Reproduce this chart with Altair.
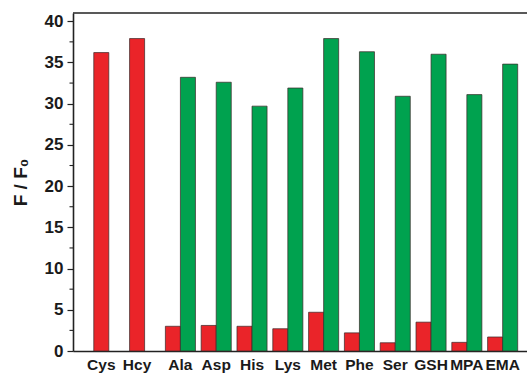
import altair as alt
import pandas as pd

# Fluorescence enhancement F/F0 for each analyte
amino = ["Cys", "Hcy", "Ala", "Asp", "His", "Lys", "Met", "Phe", "Ser", "GSH", "MPA", "EMA"]
red_vals = [36.2, 37.9, 3.0, 3.1, 3.0, 2.7, 4.7, 2.2, 1.0, 3.5, 1.05, 1.7]
green_vals = [None, None, 33.2, 32.6, 29.7, 31.9, 37.9, 36.3, 30.9, 36.0, 31.1, 34.8]
y_major = [0, 5, 10, 15, 20, 25, 30, 35, 40]
y_minor = [2.5, 7.5, 12.5, 17.5, 22.5, 27.5, 32.5, 37.5]

BAR_W = 0.42  # width of one bar in category units
W, H = 454, 338

rows = []
for i, name in enumerate(amino):
    rows.append({"name": name, "pos": i + 1, "series": "red", "value": red_vals[i]})
    if green_vals[i] is not None:
        rows.append({"name": name, "pos": i + 1, "series": "green", "value": green_vals[i]})
bars_df = pd.DataFrame(rows)

labels_df = pd.DataFrame({
    "name": amino,
    "pos": list(range(1, len(amino) + 1)),
    "has_green": [g is not None for g in green_vals],
})

x_scale = alt.Scale(domain=[0, 12.68], nice=False, zero=False)
y_scale = alt.Scale(domain=[0, 41], nice=False)

bars = alt.Chart(bars_df).transform_calculate(
    x0=f"datum.series == 'red' ? datum.pos - {BAR_W} : datum.pos",
    x1=f"datum.series == 'red' ? datum.pos : datum.pos + {BAR_W}",
).mark_bar(stroke="#3a2a2a", strokeWidth=0.9, strokeOpacity=0.8).encode(
    x=alt.X("x0:Q", scale=x_scale,
            axis=alt.Axis(labels=False, ticks=False, title=None, grid=False,
                          domainColor="#222", domainWidth=1.6)),
    x2="x1:Q",
    y=alt.Y("value:Q", scale=y_scale,
            axis=alt.Axis(values=y_major, title="F / F₀", grid=False,
                          tickSize=6, tickColor="#222", tickWidth=1.2,
                          domainColor="#222", domainWidth=1.6,
                          labelFont="Liberation Sans", labelFontSize=17,
                          labelFontWeight="bold", labelColor="#1a1a1a", labelPadding=4,
                          titleFont="Liberation Sans", titleFontSize=19,
                          titleFontWeight="bold", titleColor="#1a1a1a",
                          titleAngle=270, titleX=-53, titleY=H / 2,
                          titleAlign="center", titleBaseline="middle")),
    y2=alt.datum(0),
    color=alt.Color("series:N", scale=alt.Scale(domain=["red", "green"],
                                                range=["#ea2429", "#00a24f"]),
                    legend=None),
)

labels = alt.Chart(labels_df).transform_calculate(
    lx=f"datum.has_green ? datum.pos : datum.pos - {BAR_W / 2}"
).mark_text(font="Liberation Sans", fontSize=15.5, fontWeight="bold",
            color="#1a1a1a", baseline="alphabetic", align="center").encode(
    x=alt.X("lx:Q", scale=x_scale),
    y=alt.value(H + 19),
    text="name:N",
)

minor = alt.Chart(pd.DataFrame({"v": y_minor})).mark_rule(
    color="#222", strokeWidth=1.1
).encode(
    x=alt.value(-3.5), x2=alt.value(0),
    y=alt.Y("v:Q", scale=y_scale),
)

top = alt.Chart(alt.Data(values=[{}])).mark_rule(color="#222", strokeWidth=1.6).encode(
    x=alt.value(0), x2=alt.value(W), y=alt.value(0)
)

chart = alt.layer(bars, minor, top, labels).properties(
    width=W, height=H,
    autosize=alt.AutoSizeParams(type="none"),
    padding={"left": 73, "top": 13, "right": 0, "bottom": 22},
    background="white",
).configure_view(stroke=None)

chart.save("out.html", embed_options={"renderer": "svg", "actions": False})
